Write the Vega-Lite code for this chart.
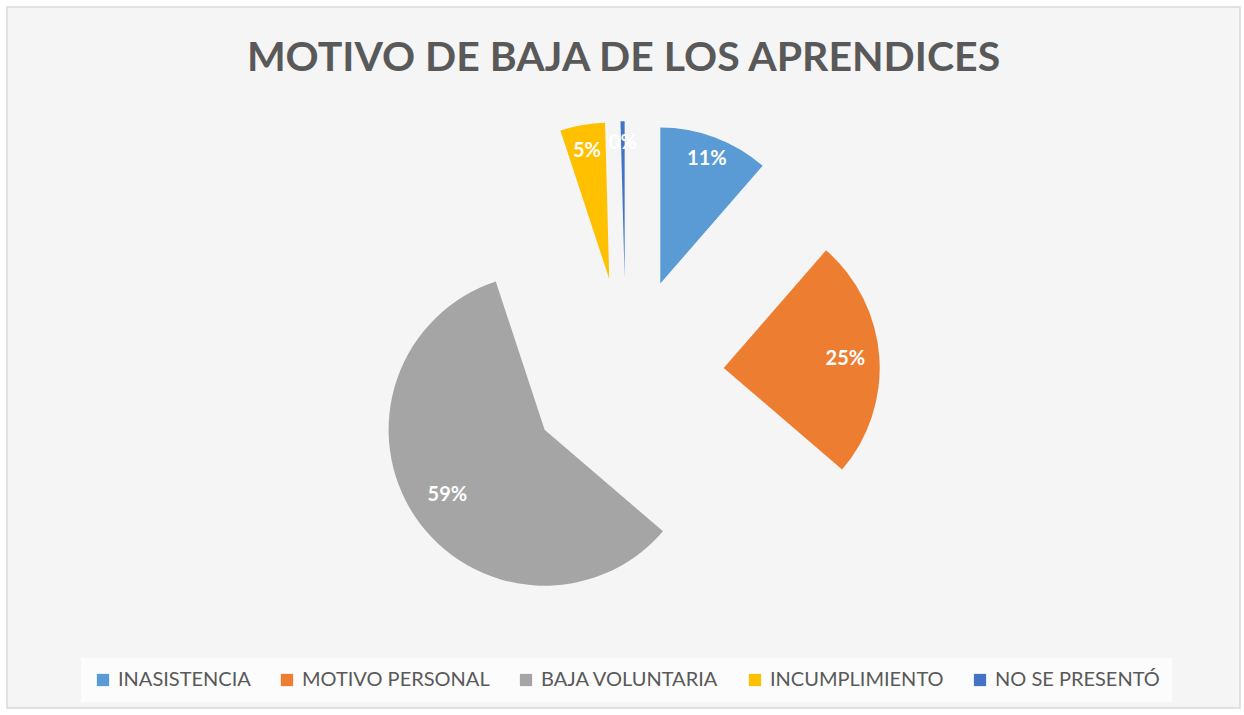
{
  "$schema": "https://vega.github.io/schema/vega-lite/v6.json",
  "width": 1233,
  "height": 701,
  "padding": {"left": 7, "top": 7, "right": 4, "bottom": 7},
  "autosize": "none",
  "background": "white",
  "view": {"fill": "#f5f5f5", "stroke": "#d9d9d9", "strokeWidth": 1.5},
  "title": {
    "text": "MOTIVO DE BAJA DE LOS APRENDICES",
    "font": "Lato",
    "fontSize": 41,
    "fontWeight": "bold",
    "color": "#595959",
    "anchor": "middle",
    "offset": -73
  },
  "data": {
    "values": [
      {"cat": "INASISTENCIA", "value": 27, "ord": 1},
      {"cat": "MOTIVO PERSONAL", "value": 59, "ord": 2},
      {"cat": "BAJA VOLUNTARIA", "value": 139, "ord": 3},
      {"cat": "INCUMPLIMIENTO", "value": 11, "ord": 4},
      {"cat": "NO SE PRESENTÓ", "value": 1, "ord": 5}
    ]
  },
  "transform": [
    {"stack": "value", "groupby": [], "sort": [{"field": "ord"}], "as": ["v0", "v1"]},
    {"calculate": "(datum.v0 + datum.v1) / 2", "as": "mid"},
    {"joinaggregate": [{"op": "sum", "field": "value", "as": "total"}]},
    {"calculate": "datum.value / datum.total", "as": "pct"}
  ],
  "encoding": {
    "color": {
      "field": "cat",
      "type": "nominal",
      "scale": {
        "domain": ["INASISTENCIA", "MOTIVO PERSONAL", "BAJA VOLUNTARIA", "INCUMPLIMIENTO", "NO SE PRESENTÓ"],
        "range": ["#5B9BD5", "#ED7D31", "#A5A5A5", "#FFC000", "#4472C4"]
      },
      "legend": {
        "title": null,
        "orient": "none",
        "legendX": 74,
        "legendY": 651,
        "direction": "horizontal",
        "columns": 5,
        "symbolType": "square",
        "symbolSize": 150,
        "symbolStrokeWidth": 0,
        "labelFont": "Lato",
        "labelFontSize": 20,
        "labelColor": "#595959",
        "labelOffset": 5,
        "columnPadding": 26,
        "padding": 12,
        "fillColor": "#fcfcfc",
        "labelLimit": 400
      }
    }
  },
  "layer": [
    {
      "transform": [{"filter": "datum.cat === 'INASISTENCIA'"}],
      "layer": [
        {"mark": {"type": "arc", "outerRadius": 156, "xOffset": 36.8, "yOffset": -74},
         "encoding": {"theta": {"field": "v0", "type": "quantitative", "scale": {"domain": [0, 237]}}, "theta2": {"field": "v1"}}},
        {"mark": {"type": "text", "radius": 133, "xOffset": 36.8, "yOffset": -74, "font": "Lato", "fontSize": 20, "fontWeight": "bold"},
         "encoding": {"theta": {"field": "mid", "type": "quantitative", "scale": {"domain": [0, 237]}}, "text": {"field": "pct", "type": "quantitative", "format": ".0%"}, "color": {"value": "white"}}}
      ]
    },
    {
      "transform": [{"filter": "datum.cat === 'MOTIVO PERSONAL'"}],
      "layer": [
        {"mark": {"type": "arc", "outerRadius": 156, "xOffset": 100.2, "yOffset": 10.5},
         "encoding": {"theta": {"field": "v0", "type": "quantitative", "scale": {"domain": [0, 237]}}, "theta2": {"field": "v1"}}},
        {"mark": {"type": "text", "radius": 122, "xOffset": 100.2, "yOffset": 10.5, "font": "Lato", "fontSize": 20, "fontWeight": "bold"},
         "encoding": {"theta": {"field": "mid", "type": "quantitative", "scale": {"domain": [0, 237]}}, "text": {"field": "pct", "type": "quantitative", "format": ".0%"}, "color": {"value": "white"}}}
      ]
    },
    {
      "transform": [{"filter": "datum.cat === 'BAJA VOLUNTARIA'"}],
      "layer": [
        {"mark": {"type": "arc", "outerRadius": 156, "xOffset": -78.9, "yOffset": 72.2},
         "encoding": {"theta": {"field": "v0", "type": "quantitative", "scale": {"domain": [0, 237]}}, "theta2": {"field": "v1"}}},
        {"mark": {"type": "text", "radius": 117, "xOffset": -78.9, "yOffset": 72.2, "font": "Lato", "fontSize": 20, "fontWeight": "bold"},
         "encoding": {"theta": {"field": "mid", "type": "quantitative", "scale": {"domain": [0, 237]}}, "text": {"field": "pct", "type": "quantitative", "format": ".0%"}, "color": {"value": "white"}}}
      ]
    },
    {
      "transform": [{"filter": "datum.cat === 'INCUMPLIMIENTO'"}],
      "layer": [
        {"mark": {"type": "arc", "outerRadius": 156, "xOffset": -14.3, "yOffset": -78.8},
         "encoding": {"theta": {"field": "v0", "type": "quantitative", "scale": {"domain": [0, 237]}}, "theta2": {"field": "v1"}}},
        {"mark": {"type": "text", "radius": 130, "xOffset": -14.3, "yOffset": -78.8, "font": "Lato", "fontSize": 20, "fontWeight": "bold"},
         "encoding": {"theta": {"field": "mid", "type": "quantitative", "scale": {"domain": [0, 237]}}, "text": {"field": "pct", "type": "quantitative", "format": ".0%"}, "color": {"value": "white"}}}
      ]
    },
    {
      "transform": [{"filter": "datum.cat === 'NO SE PRESENTÓ'"}],
      "layer": [
        {"mark": {"type": "arc", "outerRadius": 156, "xOffset": 1.1, "yOffset": -80.3},
         "encoding": {"theta": {"field": "v0", "type": "quantitative", "scale": {"domain": [0, 237]}}, "theta2": {"field": "v1"}}},
        {"mark": {"type": "text", "radius": 134, "xOffset": 1.1, "yOffset": -80.3, "font": "Lato", "fontSize": 20, "fontWeight": "bold"},
         "encoding": {"theta": {"field": "mid", "type": "quantitative", "scale": {"domain": [0, 237]}}, "text": {"field": "pct", "type": "quantitative", "format": ".0%"}, "color": {"value": "white"}}}
      ]
    }
  ]
}
